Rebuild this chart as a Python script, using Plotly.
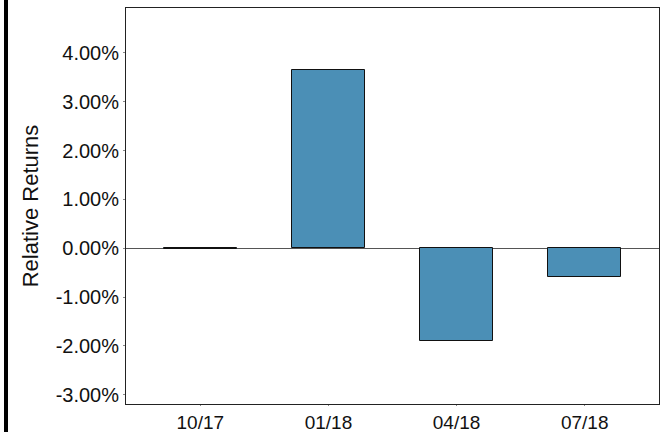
import plotly.graph_objects as go

quarters = ["10/17", "01/18", "04/18", "07/18"]
relative_returns = [-0.0002, 0.0365, -0.0190, -0.0059]

y_ticks = [-0.03, -0.02, -0.01, 0.0, 0.01, 0.02, 0.03, 0.04]
y_tick_labels = ["-3.00%", "-2.00%", "-1.00%", "0.00%", "1.00%", "2.00%", "3.00%", "4.00%"]

fig = go.Figure(
    go.Bar(
        x=list(range(len(quarters))),
        y=relative_returns,
        width=0.57,
        marker=dict(color="#4b8fb6", line=dict(color="#111111", width=1)),
        hoverinfo="skip",
    )
)

fig.update_layout(
    width=664,
    height=432,
    margin=dict(l=126, r=5, t=8, b=28),
    paper_bgcolor="white",
    plot_bgcolor="white",
    font=dict(family="Liberation Sans, Arial, sans-serif", size=20, color="#111111"),
    showlegend=False,
    bargap=0,
    xaxis=dict(
        range=[-0.58, 3.58],
        tickmode="array",
        tickvals=list(range(len(quarters))),
        ticktext=quarters,
        showgrid=False,
        zeroline=False,
        showline=True,
        linecolor="#222222",
        linewidth=1,
        mirror=True,
        ticks="outside",
        ticklen=1,
        tickcolor="#888888",
        tickfont=dict(size=19),
        automargin=False,
    ),
    yaxis=dict(
        range=[-0.0319, 0.0492],
        tickmode="array",
        tickvals=y_ticks,
        ticktext=y_tick_labels,
        showgrid=False,
        zeroline=True,
        zerolinecolor="#555555",
        zerolinewidth=1,
        showline=True,
        linecolor="#222222",
        linewidth=1,
        mirror=True,
        ticks="outside",
        ticklen=2,
        tickcolor="#888888",
        tickfont=dict(size=20),
        automargin=False,
        title=dict(text="Relative Returns", font=dict(size=22), standoff=10),
    ),
    shapes=[
        dict(
            type="rect",
            xref="paper",
            yref="paper",
            x0=(4 - 126) / 533,
            x1=(8 - 126) / 533,
            y0=-28 / 396,
            y1=1 + 8 / 396,
            fillcolor="black",
            line=dict(width=0),
            layer="above",
        )
    ],
)

fig.write_html("out.html")
